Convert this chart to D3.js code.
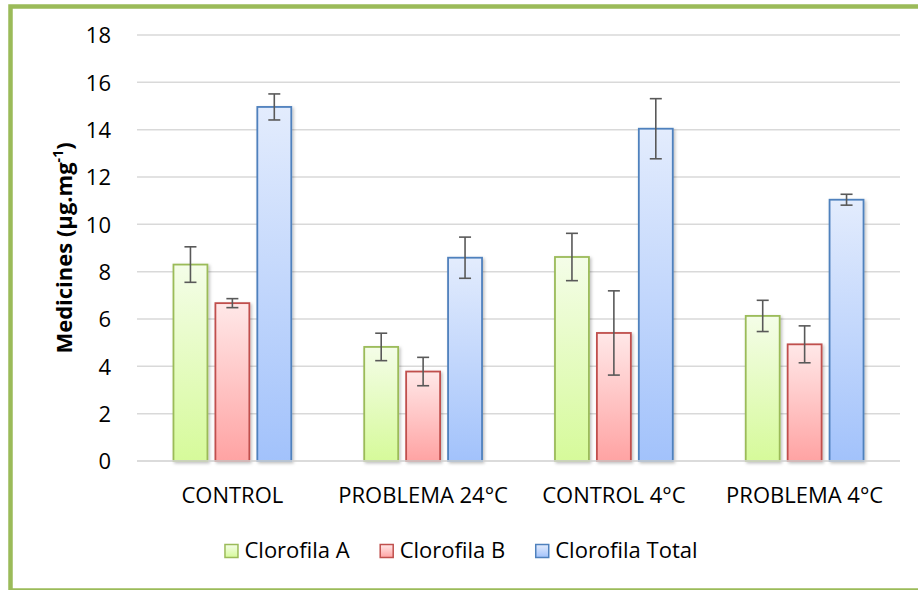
<!DOCTYPE html>
<html>
<head>
<meta charset="utf-8">
<script src="https://cdn.jsdelivr.net/npm/d3@7"></script>
<style>
  body { margin: 0; background: #fff; }
  text { font-family: "Open Sans", sans-serif; fill: #000; }
</style>
</head>
<body>
<div id="chart"></div>
<script>
// chart data
const categories = ["CONTROL", "PROBLEMA 24°C", "CONTROL 4°C", "PROBLEMA 4°C"];
const series = ["Clorofila A", "Clorofila B", "Clorofila Total"];
const clorofilaA = [8.3, 4.82, 8.62, 6.13];
const errA = [0.75, 0.58, 1.0, 0.66];
const clorofilaB = [6.67, 3.78, 5.41, 4.93];
const errB = [0.19, 0.6, 1.78, 0.78];
const clorofilaTotal = [14.96, 8.59, 14.04, 11.04];
const errTotal = [0.55, 0.87, 1.27, 0.23];
const yTicks = [0, 2, 4, 6, 8, 10, 12, 14, 16, 18];

const values = [clorofilaA, clorofilaB, clorofilaTotal];
const errors = [errA, errB, errTotal];

// colors per series: [stroke, gradient top, gradient bottom]
const colors = [
  ["#9bbb59", "#f4fde8", "#d6fa9a"],
  ["#c0504d", "#ffe8e8", "#ffa3a3"],
  ["#4f81bd", "#e3ecfd", "#a2c2fb"]
];

const width = 918, height = 590;
const plotLeft = 137, plotRight = 900, plotTop = 35, plotBottom = 461;
const fontSize = 22;

let svg = d3.select("#chart").append("svg")
  .attr("width", width)
  .attr("height", height);

let defs = svg.append("defs");
colors.forEach((c, i) => {
  let g = defs.append("linearGradient")
    .attr("id", "grad" + i)
    .attr("x1", 0).attr("y1", 0).attr("x2", 0).attr("y2", 1);
  g.append("stop").attr("offset", "0%").attr("stop-color", c[1]);
  g.append("stop").attr("offset", "100%").attr("stop-color", c[2]);
});
defs.append("filter").attr("id", "shadow")
  .attr("x", "-20%").attr("y", "-20%").attr("width", "150%").attr("height", "150%")
  .append("feDropShadow")
  .attr("dx", 1.5).attr("dy", 1.5).attr("stdDeviation", 1.5)
  .attr("flood-color", "#000").attr("flood-opacity", 0.25);

// outer green frame (cut off by the picture on the right and bottom)
svg.append("rect")
  .attr("x", 10.5).attr("y", 6.5)
  .attr("width", 1000).attr("height", 584)
  .attr("fill", "#fff")
  .attr("stroke", "#9bbb59")
  .attr("stroke-width", 4.5);

// scales
let yScale = d3.scaleLinear().domain([0, 18]).range([plotBottom, plotTop]);
let x0 = d3.scaleBand().domain(categories).range([plotLeft, plotRight]);
let x1 = d3.scaleBand().domain(series).range([0, x0.bandwidth()])
  .paddingInner(0.19).paddingOuter(0.87);

// gridlines
svg.append("g")
  .selectAll("line")
  .data(yTicks)
  .join("line")
  .attr("x1", plotLeft).attr("x2", plotRight)
  .attr("y1", d => yScale(d)).attr("y2", d => yScale(d))
  .attr("stroke", "#d9d9d9")
  .attr("stroke-width", 1.5);

// y axis labels
let yAxis = d3.axisLeft(yScale).tickValues(yTicks).tickSize(0).tickPadding(0);
let gy = svg.append("g")
  .attr("transform", `translate(111,0)`)
  .call(yAxis);
gy.select(".domain").remove();
gy.selectAll("text")
  .attr("font-size", fontSize)
  .attr("dy", "0.35em");
gy.attr("font-family", null).attr("font-size", null);

// x axis labels
let xAxis = d3.axisBottom(x0).tickSize(0).tickPadding(0);
let gx = svg.append("g")
  .attr("transform", `translate(0,503)`)
  .call(xAxis);
gx.select(".domain").remove();
gx.selectAll("text")
  .attr("font-size", fontSize)
  .attr("dy", 0);
gx.attr("font-family", null).attr("font-size", null);

// bars
series.forEach((s, i) => {
  let g = svg.append("g");
  g.selectAll("rect")
    .data(categories)
    .join("rect")
    .attr("x", d => x0(d) + x1(s))
    .attr("y", (d, j) => yScale(values[i][j]))
    .attr("width", x1.bandwidth())
    .attr("height", (d, j) => plotBottom - yScale(values[i][j]))
    .attr("fill", `url(#grad${i})`)
    .attr("stroke", colors[i][0])
    .attr("stroke-width", 1.8)
    .attr("filter", "url(#shadow)");
});

// axis baseline over the bars
svg.append("line")
  .attr("x1", plotLeft).attr("x2", plotRight)
  .attr("y1", yScale(0)).attr("y2", yScale(0))
  .attr("stroke", "#d9d9d9")
  .attr("stroke-width", 1.5);

// error bars
series.forEach((s, i) => {
  let g = svg.append("g").attr("stroke", "#595959").attr("stroke-width", 1.6);
  categories.forEach((c, j) => {
    let cx = x0(c) + x1(s) + x1.bandwidth() / 2;
    let hi = yScale(values[i][j] + errors[i][j]);
    let lo = yScale(values[i][j] - errors[i][j]);
    g.append("line").attr("x1", cx).attr("x2", cx).attr("y1", hi).attr("y2", lo);
    g.append("line").attr("x1", cx - 6).attr("x2", cx + 6).attr("y1", hi).attr("y2", hi);
    g.append("line").attr("x1", cx - 6).attr("x2", cx + 6).attr("y1", lo).attr("y2", lo);
  });
});

// y axis title
let yTitle = svg.append("text")
  .attr("transform", "translate(72,248) rotate(-90)")
  .attr("text-anchor", "middle")
  .attr("font-size", 22)
  .attr("font-weight", "bold");
yTitle.append("tspan").text("Medicines (µg.mg");
yTitle.append("tspan").text("-1").attr("font-size", 14).attr("dy", -9);
yTitle.append("tspan").text(")").attr("dy", 9);

// legend
let legend = svg.append("g");
let lx = 0;
series.forEach((s, i) => {
  let item = legend.append("g").attr("transform", `translate(${lx},0)`);
  item.append("rect")
    .attr("x", 0.5).attr("y", -13.5)
    .attr("width", 13).attr("height", 13)
    .attr("fill", `url(#grad${i})`)
    .attr("stroke", colors[i][0])
    .attr("stroke-width", 1.5);
  let t = item.append("text")
    .attr("x", 20).attr("y", 0)
    .attr("font-size", fontSize)
    .text(s);
  lx += 20 + t.node().getComputedTextLength() + 30;
});
let legendW = lx - 30;
legend.attr("transform", `translate(${461 - legendW / 2},558)`);
</script>
</body>
</html>
